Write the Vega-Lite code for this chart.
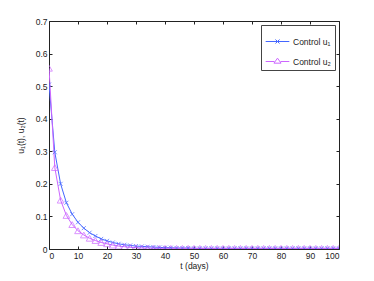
{
  "$schema": "https://vega.github.io/schema/vega-lite/v6.json",
  "autosize": "none",
  "width": 290,
  "height": 228,
  "padding": {"left": 49, "top": 21, "right": 35, "bottom": 32},
  "background": "white",
  "config": {
    "view": {"stroke": "#222", "strokeWidth": 1},
    "font": "Liberation Sans",
    "axis": {"labelFont": "Liberation Sans", "titleFont": "Liberation Sans", "labelFontSize": 8.5, "titleFontSize": 8.5, "labelColor": "#222", "titleColor": "#222", "titleFontWeight": "normal", "grid": false, "domain": false, "tickColor": "#222", "tickSize": -3, "labelPadding": 5}
  },
  "data": {"values": [
    {"t": 0, "u": 0.505, "s": "Control u₁"}, {"t": 2, "u": 0.297, "s": "Control u₁"}, {"t": 4, "u": 0.2, "s": "Control u₁"}, {"t": 6, "u": 0.142, "s": "Control u₁"}, {"t": 8, "u": 0.107, "s": "Control u₁"}, {"t": 10, "u": 0.082, "s": "Control u₁"}, {"t": 12, "u": 0.064, "s": "Control u₁"}, {"t": 14, "u": 0.05, "s": "Control u₁"}, {"t": 16, "u": 0.04, "s": "Control u₁"}, {"t": 18, "u": 0.031, "s": "Control u₁"}, {"t": 20, "u": 0.025, "s": "Control u₁"}, {"t": 22, "u": 0.02, "s": "Control u₁"}, {"t": 24, "u": 0.016, "s": "Control u₁"}, {"t": 26, "u": 0.013, "s": "Control u₁"}, {"t": 28, "u": 0.011, "s": "Control u₁"}, {"t": 30, "u": 0.009, "s": "Control u₁"}, {"t": 32, "u": 0.008, "s": "Control u₁"}, {"t": 34, "u": 0.007, "s": "Control u₁"}, {"t": 36, "u": 0.006, "s": "Control u₁"}, {"t": 38, "u": 0.005, "s": "Control u₁"}, {"t": 40, "u": 0.004, "s": "Control u₁"}, {"t": 42, "u": 0.004, "s": "Control u₁"}, {"t": 44, "u": 0.003, "s": "Control u₁"}, {"t": 46, "u": 0.003, "s": "Control u₁"}, {"t": 48, "u": 0.003, "s": "Control u₁"}, {"t": 50, "u": 0.002, "s": "Control u₁"}, {"t": 52, "u": 0.002, "s": "Control u₁"}, {"t": 54, "u": 0.002, "s": "Control u₁"}, {"t": 56, "u": 0.002, "s": "Control u₁"}, {"t": 58, "u": 0.002, "s": "Control u₁"}, {"t": 60, "u": 0.002, "s": "Control u₁"}, {"t": 62, "u": 0.002, "s": "Control u₁"}, {"t": 64, "u": 0.002, "s": "Control u₁"}, {"t": 66, "u": 0.002, "s": "Control u₁"}, {"t": 68, "u": 0.002, "s": "Control u₁"}, {"t": 70, "u": 0.002, "s": "Control u₁"}, {"t": 72, "u": 0.002, "s": "Control u₁"}, {"t": 74, "u": 0.002, "s": "Control u₁"}, {"t": 76, "u": 0.002, "s": "Control u₁"}, {"t": 78, "u": 0.002, "s": "Control u₁"}, {"t": 80, "u": 0.002, "s": "Control u₁"}, {"t": 82, "u": 0.002, "s": "Control u₁"}, {"t": 84, "u": 0.002, "s": "Control u₁"}, {"t": 86, "u": 0.002, "s": "Control u₁"}, {"t": 88, "u": 0.002, "s": "Control u₁"}, {"t": 90, "u": 0.002, "s": "Control u₁"}, {"t": 92, "u": 0.002, "s": "Control u₁"}, {"t": 94, "u": 0.002, "s": "Control u₁"}, {"t": 96, "u": 0.002, "s": "Control u₁"}, {"t": 98, "u": 0.002, "s": "Control u₁"}, {"t": 100, "u": 0.002, "s": "Control u₁"},
    {"t": 0, "u": 0.555, "s": "Control u₂"}, {"t": 2, "u": 0.25, "s": "Control u₂"}, {"t": 4, "u": 0.15, "s": "Control u₂"}, {"t": 6, "u": 0.103, "s": "Control u₂"}, {"t": 8, "u": 0.075, "s": "Control u₂"}, {"t": 10, "u": 0.056, "s": "Control u₂"}, {"t": 12, "u": 0.043, "s": "Control u₂"}, {"t": 14, "u": 0.033, "s": "Control u₂"}, {"t": 16, "u": 0.026, "s": "Control u₂"}, {"t": 18, "u": 0.02, "s": "Control u₂"}, {"t": 20, "u": 0.016, "s": "Control u₂"}, {"t": 22, "u": 0.012, "s": "Control u₂"}, {"t": 24, "u": 0.009, "s": "Control u₂"}, {"t": 26, "u": 0.007, "s": "Control u₂"}, {"t": 28, "u": 0.005, "s": "Control u₂"}, {"t": 30, "u": 0.004, "s": "Control u₂"}, {"t": 32, "u": 0.003, "s": "Control u₂"}, {"t": 34, "u": 0.003, "s": "Control u₂"}, {"t": 36, "u": 0.002, "s": "Control u₂"}, {"t": 38, "u": 0.002, "s": "Control u₂"}, {"t": 40, "u": 0.002, "s": "Control u₂"}, {"t": 42, "u": 0.002, "s": "Control u₂"}, {"t": 44, "u": 0.002, "s": "Control u₂"}, {"t": 46, "u": 0.002, "s": "Control u₂"}, {"t": 48, "u": 0.002, "s": "Control u₂"}, {"t": 50, "u": 0.002, "s": "Control u₂"}, {"t": 52, "u": 0.002, "s": "Control u₂"}, {"t": 54, "u": 0.002, "s": "Control u₂"}, {"t": 56, "u": 0.002, "s": "Control u₂"}, {"t": 58, "u": 0.002, "s": "Control u₂"}, {"t": 60, "u": 0.002, "s": "Control u₂"}, {"t": 62, "u": 0.002, "s": "Control u₂"}, {"t": 64, "u": 0.002, "s": "Control u₂"}, {"t": 66, "u": 0.002, "s": "Control u₂"}, {"t": 68, "u": 0.002, "s": "Control u₂"}, {"t": 70, "u": 0.002, "s": "Control u₂"}, {"t": 72, "u": 0.002, "s": "Control u₂"}, {"t": 74, "u": 0.002, "s": "Control u₂"}, {"t": 76, "u": 0.002, "s": "Control u₂"}, {"t": 78, "u": 0.002, "s": "Control u₂"}, {"t": 80, "u": 0.002, "s": "Control u₂"}, {"t": 82, "u": 0.002, "s": "Control u₂"}, {"t": 84, "u": 0.002, "s": "Control u₂"}, {"t": 86, "u": 0.002, "s": "Control u₂"}, {"t": 88, "u": 0.002, "s": "Control u₂"}, {"t": 90, "u": 0.002, "s": "Control u₂"}, {"t": 92, "u": 0.002, "s": "Control u₂"}, {"t": 94, "u": 0.002, "s": "Control u₂"}, {"t": 96, "u": 0.002, "s": "Control u₂"}, {"t": 98, "u": 0.002, "s": "Control u₂"}, {"t": 100, "u": 0.002, "s": "Control u₂"}
  ]},
  "layer": [
    {
      "mark": {"type": "line", "strokeWidth": 1, "clip": true},
      "encoding": {
        "x": {"field": "t", "type": "quantitative", "scale": {"domain": [0, 100], "nice": false}, "axis": {"title": "t (days)", "values": [0,10,20,30,40,50,60,70,80,90,100], "titlePadding": 2}},
        "y": {"field": "u", "type": "quantitative", "scale": {"domain": [0, 0.7], "nice": false}, "axis": {"title": "u₁(t), u₂(t)", "values": [0,0.1,0.2,0.3,0.4,0.5,0.6,0.7], "format": ".1~f", "titlePadding": 10}},
        "color": {"field": "s", "type": "nominal", "scale": {"domain": ["Control u₁", "Control u₂"], "range": ["#4466ff", "#cc66ff"]},
          "legend": {"title": null, "orient": "none", "legendX": 212, "legendY": 4, "fillColor": "white", "strokeColor": "#444", "padding": 4, "labelFont": "Liberation Sans", "labelFontSize": 8.5, "labelColor": "#222", "labelOffset": 3, "rowPadding": 3, "symbolSize": 560, "symbolStrokeWidth": 1, "symbolFillColor": "transparent",
            "encode": {"symbols": {"update": {"shape": {"signal": "datum.value == 'Control u₁' ? 'M-1,0H1M-0.17,-0.17L0.17,0.17M-0.17,0.17L0.17,-0.17' : 'M-1,0H-0.26M0.26,0H1M0,-0.28L0.3,0.14L-0.3,0.14Z'"}, "fill": {"value": "transparent"}}}}}
        }
      }
    },
    {
      "transform": [{"filter": "datum.s == 'Control u₁'"}],
      "mark": {"type": "point", "filled": false, "strokeWidth": 1, "clip": true, "shape": "M-1,-1L1,1M-1,1L1,-1", "size": 16, "color": "#4466ff"},
      "encoding": {
        "x": {"field": "t", "type": "quantitative", "axis": {"labels": false, "title": null, "values": [0,10,20,30,40,50,60,70,80,90,100]}},
        "y": {"field": "u", "type": "quantitative", "axis": {"labels": false, "title": null, "values": [0,0.1,0.2,0.3,0.4,0.5,0.6,0.7]}}
      }
    },
    {
      "transform": [{"filter": "datum.s == 'Control u₂'"}],
      "mark": {"type": "point", "filled": false, "strokeWidth": 1, "clip": true, "shape": "triangle-up", "size": 45, "color": "#cc66ff"},
      "encoding": {
        "x": {"field": "t", "type": "quantitative", "axis": null},
        "y": {"field": "u", "type": "quantitative", "axis": null}
      }
    }
  ],
  "resolve": {"axis": {"x": "independent", "y": "independent"}}
}
